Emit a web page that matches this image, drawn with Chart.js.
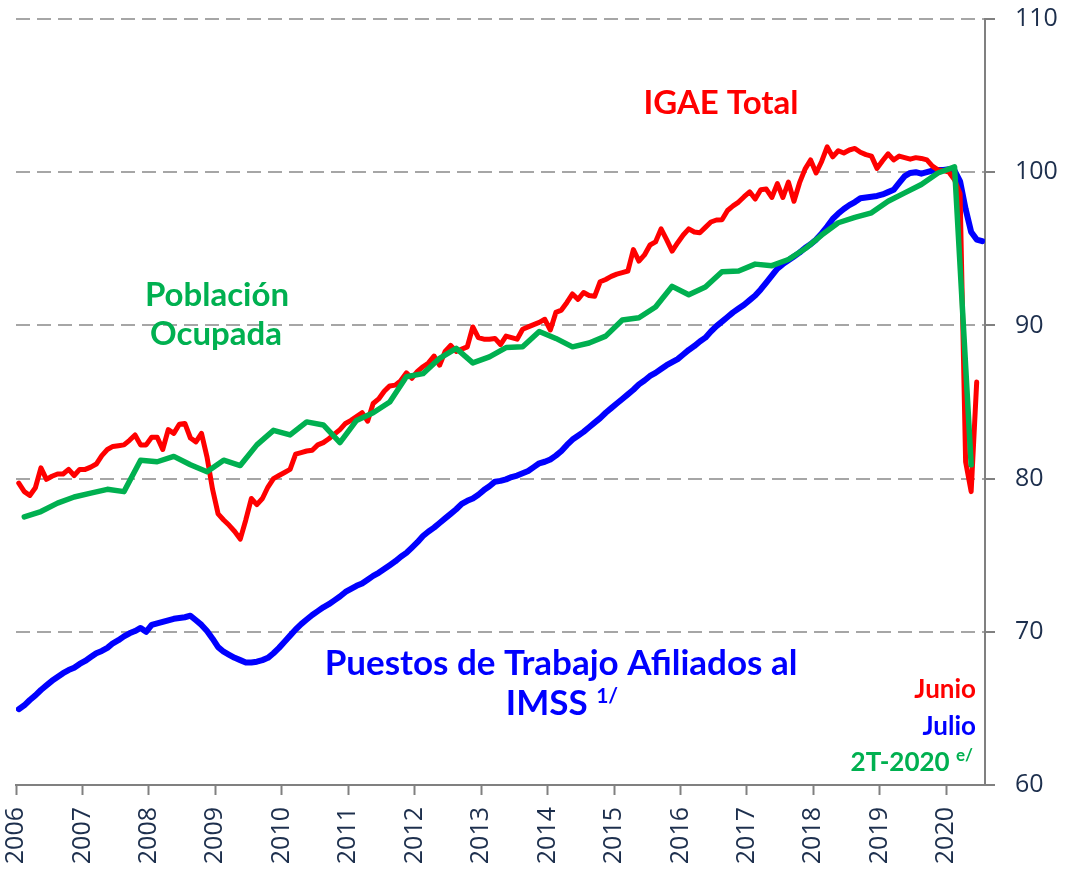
<!DOCTYPE html>
<html>
<head>
<meta charset="utf-8">
<script src="https://cdn.jsdelivr.net/npm/chart.js@4.4.0/dist/chart.umd.min.js"></script>
<style>
  html, body { margin: 0; padding: 0; background: #fff; }
  #wrap { width: 1066px; height: 872px; }
</style>
</head>
<body>
<div id="wrap"><canvas id="chart" width="1066" height="872"></canvas></div>
<script>
// IGAE Total, mensual, ene-2006 a jun-2020
const igae = [
  79.7, 79.15, 78.9, 79.4, 80.7, 79.95, 80.15, 80.3, 80.3, 80.6, 80.2, 80.6,
  80.6, 80.75, 80.95, 81.5, 81.9, 82.1, 82.15, 82.2, 82.5, 82.85, 82.2, 82.2,
  82.7, 82.7, 81.9, 83.2, 82.95, 83.55, 83.6, 82.65, 82.4, 82.95, 81.4, 79.3,
  77.7, 77.3, 76.95, 76.55, 76.05, 77.3, 78.7, 78.3, 78.7, 79.45, 80.0, 80.2,
  80.4, 80.6, 81.6, 81.7, 81.8, 81.85, 82.2, 82.35, 82.6, 82.9, 83.2, 83.6,
  83.8, 84.05, 84.3, 83.75, 84.9, 85.2, 85.7, 86.05, 86.1, 86.4, 86.9, 86.55,
  87.0, 87.3, 87.55, 88.0, 87.4, 88.3, 88.7, 88.3, 88.45, 88.6, 89.9, 89.2,
  89.1, 89.1, 89.15, 88.75, 89.3, 89.2, 89.1, 89.75, 89.9, 90.05, 90.2, 90.4,
  89.7, 90.85, 91.0, 91.5, 92.05, 91.7, 92.15, 91.95, 91.9, 92.85, 93.0, 93.2,
  93.35, 93.45, 93.55, 94.95, 94.2, 94.6, 95.25, 95.45, 96.3, 95.6, 94.85, 95.4,
  95.9, 96.3, 96.1, 96.05, 96.4, 96.75, 96.88, 96.9, 97.5, 97.8, 98.05, 98.4,
  98.72, 98.25, 98.85, 98.9, 98.35, 99.25, 98.35, 99.35, 98.1, 99.3, 100.2, 100.8,
  99.95, 100.7, 101.65, 101.0, 101.4, 101.25, 101.45, 101.55, 101.3, 101.15, 101.05, 100.25,
  100.75, 101.2, 100.8, 101.05, 100.95, 100.85, 100.95, 100.9, 100.8, 100.4, 100.15, 100.1,
  100.0, 99.5, 98.6, 81.1, 79.15, 86.3
];

// Puestos de trabajo afiliados al IMSS, mensual, ene-2006 a jul-2020
const imss = [
  64.95, 65.2, 65.55, 65.85, 66.2, 66.5, 66.8, 67.05, 67.3, 67.5, 67.65, 67.9,
  68.1, 68.35, 68.6, 68.75, 68.95, 69.25, 69.45, 69.7, 69.9, 70.05, 70.25, 70.0,
  70.45, 70.55, 70.65, 70.75, 70.85, 70.9, 70.95, 71.05, 70.75, 70.45, 70.05, 69.55,
  69.0, 68.7, 68.5, 68.3, 68.15, 68.0, 68.0, 68.05, 68.15, 68.3, 68.6, 68.95,
  69.35, 69.75, 70.15, 70.5, 70.8, 71.1, 71.35, 71.6, 71.8, 72.05, 72.3, 72.6,
  72.8, 73.0, 73.15, 73.4, 73.65, 73.85, 74.1, 74.35, 74.6, 74.9, 75.15, 75.5,
  75.85, 76.25, 76.55, 76.8, 77.1, 77.4, 77.7, 78.0, 78.35, 78.55, 78.7, 78.95,
  79.25, 79.5, 79.8, 79.85, 79.95, 80.1, 80.2, 80.35, 80.5, 80.75, 81.0, 81.1,
  81.25, 81.5, 81.8, 82.2, 82.55, 82.8, 83.05, 83.35, 83.65, 83.95, 84.3, 84.6,
  84.9, 85.2, 85.5, 85.8, 86.15, 86.4, 86.7, 86.9, 87.15, 87.4, 87.6, 87.8,
  88.1, 88.4, 88.65, 88.95, 89.2, 89.6, 89.95, 90.25, 90.55, 90.85, 91.1, 91.35,
  91.65, 91.95, 92.35, 92.8, 93.25, 93.7, 94.0, 94.25, 94.5, 94.75, 95.05, 95.3,
  95.6, 96.0, 96.45, 96.95, 97.3, 97.6, 97.85, 98.05, 98.3, 98.35, 98.4, 98.45,
  98.55, 98.7, 98.85, 99.3, 99.75, 99.95, 100.0, 99.9, 100.0, 100.1, 100.15, 100.15,
  100.2, 100.1, 99.4, 97.6, 96.1, 95.6, 95.5
];

// Poblacion ocupada, trimestral, 1T-2006 a 2T-2020
const pobOcupada = [
  77.5, 77.85, 78.4, 78.8, 79.05, 79.3, 79.15, 81.2, 81.1, 81.45, 80.9, 80.45,
  81.2, 80.85, 82.2, 83.15, 82.85, 83.7, 83.5, 82.35, 83.8, 84.3, 85.0, 86.65,
  86.85, 87.85, 88.5, 87.55, 87.95, 88.55, 88.6, 89.6, 89.15, 88.6, 88.85, 89.3,
  90.35, 90.5, 91.2, 92.55, 92.0, 92.5, 93.5, 93.55, 94.0, 93.9, 94.3, 95.0,
  95.9, 96.7, 97.05, 97.35, 98.1, 98.65, 99.2, 99.95, 100.35, 80.9
];

const years = [2006, 2007, 2008, 2009, 2010, 2011, 2012, 2013, 2014, 2015, 2016, 2017, 2018, 2019, 2020];
const yTicks = [60, 70, 80, 90, 100, 110];

const START = 2006;
const monthly = arr => arr.map((v, i) => ({ x: START + (i + 0.5) / 12, y: v }));
const quarterly = arr => arr.map((v, i) => ({ x: START + (i * 3 + 1.5) / 12, y: v }));

const axisColor = "#808080";
const labelColor = "#1d2f4d";
const tickFont = { family: "'Open Sans', sans-serif", size: 25 };

// textos dentro del grafico
const textLabels = {
  id: "textLabels",
  afterDraw(chart) {
    const ctx = chart.ctx;
    ctx.save();
    ctx.textBaseline = "alphabetic";

    const put = (txt, x, y, color, size, align) => {
      ctx.font = "bold " + size + "px Lato, sans-serif";
      ctx.fillStyle = color;
      ctx.textAlign = align;
      ctx.fillText(txt, x, y);
    };
    const withSup = (txt, sup, x, y, color, size, supSize, raise, align) => {
      ctx.font = "bold " + size + "px Lato, sans-serif";
      const w1 = ctx.measureText(txt + " ").width;
      ctx.font = "bold " + supSize + "px Lato, sans-serif";
      const w2 = ctx.measureText(sup).width;
      let left = x;
      if (align === "center") left = x - (w1 + w2) / 2;
      if (align === "right") left = x - (w1 + w2);
      put(txt, left, y, color, size, "left");
      put(sup, left + w1, y - raise, color, supSize, "left");
    };

    put("IGAE Total", 721, 114, "#ff0000", 33, "center");
    put("Población", 217, 306, "#00b050", 33, "center");
    put("Ocupada", 216, 345, "#00b050", 33, "center");
    put("Puestos de Trabajo Afiliados al", 561, 675, "#0000ff", 35, "center");
    withSup("IMSS", "1/", 562, 715, "#0000ff", 35, 21, 12, "center");

    put("Junio", 976, 698, "#ff0000", 26, "right");
    put("Julio", 976, 735, "#0000ff", 26, "right");
    withSup("2T-2020", "e/", 973, 771, "#00b050", 26, 17, 10, "right");

    ctx.restore();
  }
};

new Chart(document.getElementById("chart"), {
  type: "line",
  data: {
    datasets: [
      {
        label: "Población Ocupada",
        data: quarterly(pobOcupada),
        borderColor: "#00b050",
        borderWidth: 5.5
      },
      {
        label: "IGAE Total",
        data: monthly(igae),
        borderColor: "#ff0000",
        borderWidth: 5
      },
      {
        label: "Puestos de Trabajo Afiliados al IMSS",
        data: monthly(imss),
        borderColor: "#0000ff",
        borderWidth: 6
      }
    ]
  },
  options: {
    responsive: false,
    animation: false,
    layout: { padding: { left: 16, top: 19, right: 0, bottom: 0 } },
    plugins: {
      legend: { display: false },
      tooltip: { enabled: false }
    },
    elements: {
      point: { radius: 0 },
      line: { tension: 0, borderJoinStyle: "round", borderCapStyle: "round", fill: false }
    },
    scales: {
      x: {
        type: "linear",
        min: START,
        max: START + 175 / 12,
        afterBuildTicks: scale => { scale.ticks = years.map(v => ({ value: v })); },
        afterFit: scale => {
          scale.height = 87;
          scale.paddingLeft = 0;
          scale.paddingRight = 0;
        },
        ticks: {
          autoSkip: false,
          minRotation: 90,
          maxRotation: 90,
          padding: 12,
          color: labelColor,
          font: tickFont,
          callback: v => String(v)
        },
        grid: {
          drawOnChartArea: false,
          drawTicks: true,
          tickLength: 10,
          tickColor: axisColor,
          tickWidth: 2
        },
        border: { color: axisColor, width: 2 }
      },
      y: {
        position: "right",
        min: 60,
        max: 110,
        afterBuildTicks: scale => { scale.ticks = yTicks.map(v => ({ value: v })); },
        afterFit: scale => {
          scale.width = 81;
          scale.paddingTop = 0;
          scale.paddingBottom = 0;
        },
        ticks: {
          padding: 20,
          color: labelColor,
          font: tickFont
        },
        grid: {
          color: c => (c.tick && c.tick.value === 60 ? "rgba(0,0,0,0)" : "#a6a6a6"),
          lineWidth: 2,
          tickColor: axisColor,
          tickWidth: 2,
          tickLength: 10
        },
        border: { color: axisColor, width: 2, dash: [14, 7] }
      }
    }
  },
  plugins: [textLabels]
});
</script>
</body>
</html>
